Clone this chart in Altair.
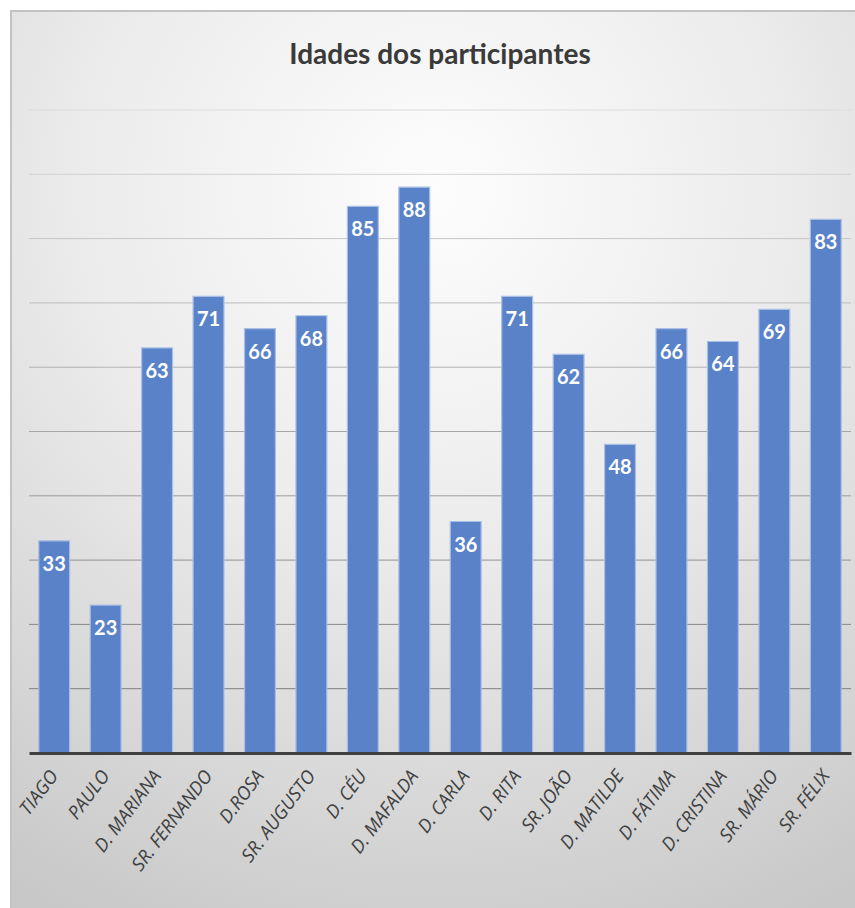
import altair as alt
import pandas as pd

names = ["TIAGO", "PAULO", "D. MARIANA", "SR. FERNANDO", "D.ROSA", "SR. AUGUSTO",
         "D. CÉU", "D. MAFALDA", "D. CARLA", "D. RITA", "SR. JOÃO", "D. MATILDE",
         "D. FÁTIMA", "D. CRISTINA", "SR. MÁRIO", "SR. FÉLIX"]
ages = [33, 23, 63, 71, 66, 68, 85, 88, 36, 71, 62, 48, 66, 64, 69, 83]
grid_values = [10, 20, 30, 40, 50, 60, 70, 80, 90, 100]
title_text = ["Idades dos participantes"]

df = pd.DataFrame({"nome": names, "idade": ages})
gdf = pd.DataFrame({"v": grid_values})
bgdf = pd.DataFrame({"t": title_text})

W, H = 822, 643
FONT = "Lato, Open Sans, sans-serif"

yscale = alt.Scale(domain=[0, 100], nice=False)

bg = alt.Chart(bgdf).mark_rect(
    fill=alt.Gradient(
        gradient="radial",
        x1=0.5, y1=0.2, r1=0.0,
        x2=0.5, y2=0.2, r2=0.9,
        stops=[alt.GradientStop(offset=0, color="#fdfdfd"),
               alt.GradientStop(offset=0.45, color="#ebebeb"),
               alt.GradientStop(offset=1, color="#c8c8c8")],
    ),
    stroke="#c2c2c2", strokeWidth=2,
).encode(
    x=alt.value(-18), x2=alt.value(830),
    y=alt.value(-99), y2=alt.value(800),
)

title = alt.Chart(bgdf).mark_text(
    font=FONT, fontSize=28, fontWeight="bold", color="#3a3a3a",
    align="center", baseline="middle",
).encode(x=alt.value(W / 2), y=alt.value(-54), text="t:N")

grid = alt.Chart(gdf).mark_rule(strokeWidth=1).encode(
    y=alt.Y("v:Q", scale=yscale, axis=None),
    color=alt.Color("v:Q", scale=alt.Scale(domain=[10, 100], range=["#7e7e7e", "#dcdcdc"]), legend=None),
)

xenc = alt.X("nome:N", sort=None, title=None,
             scale=alt.Scale(paddingInner=0.4, paddingOuter=0.19),
             axis=alt.Axis(labelAngle=-53, labelFont="Open Sans", labelFontStyle="italic",
                           labelFontSize=18.5, labelColor="#404040", labelPadding=19,
                           ticks=False, domainColor="#404040", domainWidth=3, grid=False,
                           zindex=1))

bars = alt.Chart(df).mark_bar(color="#5a82c9", stroke="#a8bee6", strokeWidth=1.2).encode(
    x=xenc,
    y=alt.Y("idade:Q", scale=yscale, axis=None),
)

labels = alt.Chart(df).mark_text(
    color="white", font=FONT, fontWeight="bold", fontSize=20, baseline="top", dy=14
).encode(
    x=alt.X("nome:N", sort=None),
    y=alt.Y("idade:Q", scale=yscale),
    text="idade:Q",
)

chart = alt.layer(bg, title, grid, bars, labels).properties(
    width=W, height=H,
    autosize=alt.AutoSizeParams(type="none"),
    padding={"left": 29, "top": 110, "right": 4, "bottom": 155},
).configure_view(stroke=None).configure(background="white")

chart.save("out.html", embed_options={"renderer": "svg", "actions": False})
